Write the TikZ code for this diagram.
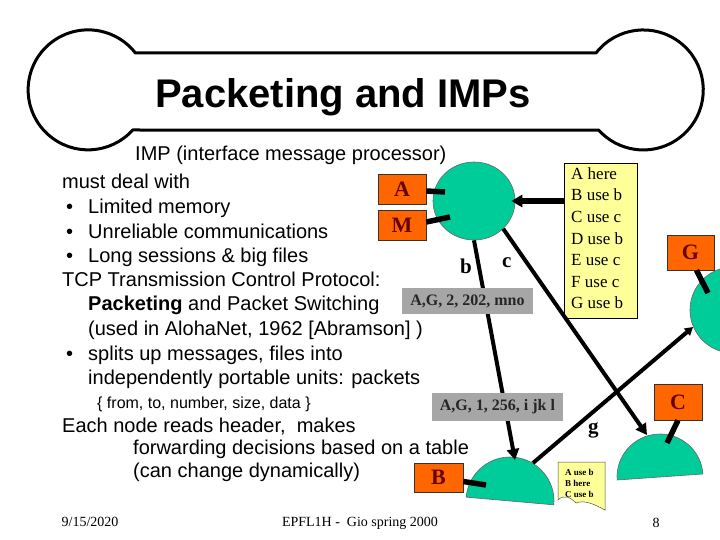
\documentclass[tikz,border=0pt]{standalone}
\usepackage{fontspec}
\setmainfont{Liberation Sans}
\newfontfamily\tms{Liberation Serif}
\usetikzlibrary{arrows.meta,shapes.geometric}
\definecolor{impgreen}{RGB}{0,204,153}
\definecolor{imporange}{RGB}{255,102,0}
\definecolor{lettred}{RGB}{102,0,0}
\definecolor{tblyellow}{RGB}{255,255,153}
\definecolor{lblgray}{RGB}{166,166,166}
\begin{document}
\begin{tikzpicture}[x=1pt,y=-1pt,
  txt/.style={anchor=base west, inner sep=0pt, font=\fontsize{20}{24}\selectfont},
  smalltxt/.style={anchor=base west, inner sep=0pt, font=\fontsize{16}{19}\selectfont},
  hostbox/.style={draw=black!80, line width=0.6pt, fill=imporange, inner sep=0pt,
    font=\tms\bfseries\fontsize{22}{22}\selectfont, text=lettred},
  link/.style={line width=5.5pt},
  pkt/.style={line width=4pt, -{Triangle[length=11pt,width=12pt]}},
  hdr/.style={fill=lblgray, inner sep=0pt, font=\tms\bfseries\fontsize{16}{16}\selectfont, text=black!85},
  edgelbl/.style={anchor=base west, inner sep=0pt, font=\tms\bfseries\fontsize{21}{21}\selectfont},
  tbltext/.style={anchor=base west, inner sep=0pt, font=\tms\fontsize{17}{21}\selectfont},
  notetext/.style={anchor=base west, inner sep=0pt, font=\tms\bfseries\fontsize{9}{11}\selectfont},
  foot/.style={anchor=base, inner sep=0pt, font=\tms\fontsize{14}{14}\selectfont},
  dome/.style={fill=impgreen, draw=black!60, line width=0.6pt}
]
\clip (0,0) rectangle (720,540);
\fill[white] (0,0) rectangle (720,540);

% title banner
\draw[line width=3pt, line join=round]
  (135.3,53) -- (596,53) arc[start angle=-142, end angle=138, radius=60]
  -- (132.7,130) arc[start angle=42, end angle=322, radius=60] -- cycle;
\node[anchor=base west, inner sep=0pt, font=\bfseries\fontsize{40}{40}\selectfont] (title) at (155,108) {Packeting and IMPs};

% body text
\node[txt] (t1) at (135,161) {IMP (interface message processor)};
\node[txt] (t2) at (62,189) {must deal with};
\node[txt] (b1) at (66,214) {•};
\node[txt] (t3) at (88,214) {Limited memory};
\node[txt] (b2) at (66,238) {•};
\node[txt] (t4) at (88,238) {Unreliable communications};
\node[txt] (b3) at (66,262) {•};
\node[txt] (t5) at (88,262) {Long sessions \& big files};
\node[txt] (t6) at (62,286) {TCP Transmission Control Protocol:};
\node[txt] (t7) at (88,310) {\textbf{Packeting} and Packet Switching};
\node[txt] (t8) at (88,335) {(used in AlohaNet, 1962 [Abramson] )};
\node[txt] (b4) at (66,360) {•};
\node[txt] (t9) at (88,360) {splits up messages, files into};
\node[txt] (t10) at (88,384) {independently portable units: packets};
\node[smalltxt] (t11) at (97,408) {\{ from, to, number, size, data \}};
\node[txt] (t12) at (62,432) {Each node reads header,\ \ makes};
\node[txt] (t13) at (133,454) {forwarding decisions based on a table};
\node[txt] (t14) at (133,477) {(can change dynamically)};

% network shapes
\node[ellipse, fill=impgreen, draw=black!60, line width=0.6pt, inner sep=0pt,
  minimum width=82pt, minimum height=78pt] (imp) at (474,201) {};
\coordinate (domeB) at (510,501);
\coordinate (domeC) at (660,477);
\coordinate (gctr) at (733,310);
\path[dome] (domeB) ++(185:44) arc[start angle=185, end angle=365, radius=44] -- cycle;
\path[dome] (domeC) ++(176:43) arc[start angle=176, end angle=356, radius=43] -- cycle;
\path[dome] (gctr) circle[radius=43];

% routing table
\node[draw=black, line width=0.6pt, fill=tblyellow, inner sep=0pt, anchor=north west,
  minimum width=73pt, minimum height=155pt] (tbl) at (564,163) {};
\foreach \s [count=\i] in {A here, B use b, C use c, D use b, E use c, F use c, G use b}
  \node[tbltext] (tl\i) at (571,158+21.5*\i) {\s};

% small note
\path[draw=black!70, line width=0.5pt, fill=tblyellow]
  (558,462) -- (605,462) -- (605,510)
  .. controls (592,503) and (584,500) .. (576,503)
  .. controls (570,497) and (564,494) .. (558,500) -- cycle;
\node[notetext] (n1) at (565,475) {A use b};
\node[notetext] (n2) at (565,486) {B here};
\node[notetext] (n3) at (565,497) {C use b};

% packet lines
\coordinate (bEnd) at (515,460);
\coordinate (cEnd) at (647,435);
\coordinate (gStart) at (533,463);
\coordinate (gEnd) at (693,327);
\draw[pkt, line width=5.5pt] (tbl.west |- imp) -- ([xshift=-4pt]imp.east);
\draw[pkt] (imp.south) -- (bEnd);
\draw[pkt] (imp.south east) -- (cEnd);
\draw[pkt, -{Triangle[length=8pt,width=9pt]}] (gStart) -- (gEnd);

% edge labels
\node[edgelbl] (lb) at (460,273) {b};
\node[edgelbl] (lc) at (502,267) {c};
\node[edgelbl] (lg) at (588,433) {g};

% packet headers
\node[hdr, minimum width=131pt, minimum height=26pt] (h1) at (467.5,301) {A,G, 2, 202, mno};
\node[hdr, minimum width=131pt, minimum height=28pt] (h2) at (497.5,407) {A,G, 1, 256, i jk l};

% hosts
\node[hostbox, minimum width=48pt, minimum height=30pt] (A) at (402,189) {A};
\node[hostbox, minimum width=48pt, minimum height=30pt] (M) at (402,225) {M};
\node[hostbox, minimum width=49pt, minimum height=29pt] (B) at (438.5,477.5) {B};
\node[hostbox, minimum width=48pt, minimum height=36pt] (C) at (678,402) {C};
\node[hostbox, minimum width=47pt, minimum height=35pt] (G) at (690.5,252.5) {G};
\coordinate (aIn) at (445,192);
\coordinate (mIn) at (450,217);
\coordinate (bIn) at (486,485);
\coordinate (cIn) at (667,443);
\coordinate (gIn) at (708,293);
\draw[link] ([yshift=-2pt]A.east) -- (aIn);
\draw[link] ([yshift=3pt]M.east) -- (mIn);
\draw[link] ([yshift=-4pt]B.east) -- (bIn);
\draw[link] (C.south) -- (cIn);
\draw[link] ([xshift=6pt]G.south) -- (gIn);

% footer
\node[foot] (f1) at (90,526) {9/15/2020};
\node[foot] (f2) at (360,526) {EPFL1H -\ \ Gio spring 2000};
\node[foot] (f3) at (656,527) {8};
\end{tikzpicture}
\end{document}
